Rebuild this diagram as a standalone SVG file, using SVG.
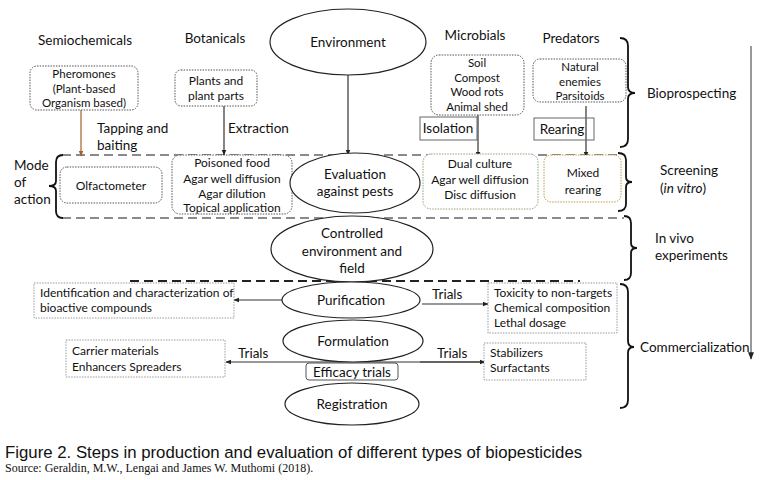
<svg xmlns="http://www.w3.org/2000/svg" width="762" height="480" viewBox="0 0 762 480">
<defs>
<style>
text{font-family:Lato,"Open Sans","Liberation Sans",sans-serif;font-size:12px;fill:#111}
.c{text-anchor:middle}
.h{font-size:13.5px}
.s{font-size:11.5px}
.dot{fill:#fff;stroke:#555;stroke-width:1;stroke-dasharray:1.5 1.2}
.sq{fill:#fff;stroke:#999;stroke-width:1;stroke-dasharray:1.5 1.2}
.ell{fill:#fff;stroke:#222;stroke-width:1.2}
.ln{fill:none;stroke:#333;stroke-width:1.2}
.br{fill:none;stroke:#111;stroke-width:1.8}
.dash{fill:none;stroke:#8a8a8a;stroke-width:2;stroke-dasharray:9 5}
</style>
<marker id="ah" viewBox="0 0 10 10" refX="9" refY="5" markerWidth="5" markerHeight="5" orient="auto"><path d="M0,1 L10,5 L0,9 z" fill="#222"/></marker>
<marker id="ahb" viewBox="0 0 10 10" refX="9" refY="5" markerWidth="5" markerHeight="5" orient="auto"><path d="M0,1 L10,5 L0,9 z" fill="#a0612b"/></marker>
</defs>
<rect width="762" height="480" fill="#fff"/>

<g id="headers">
<text class="c h" x="85" y="45">Semiochemicals</text>
<text class="c h" x="215" y="43">Botanicals</text>
<text class="c h" x="475" y="40">Microbials</text>
<text class="c h" x="571" y="43">Predators</text>
</g>

<g id="screening-band">
<line class="dash" x1="62" y1="155" x2="622" y2="155"/>
<line class="dash" x1="62" y1="218" x2="624" y2="218"/>
</g>

<g id="connectors">
<line x1="81" y1="110" x2="81" y2="156" stroke="#a0612b" stroke-width="1.2" marker-end="url(#ahb)"/>
<line class="ln" x1="224" y1="106" x2="224" y2="155" marker-end="url(#ah)"/>
<line class="ln" x1="348" y1="75" x2="348" y2="155" marker-end="url(#ah)"/>
<line class="ln" x1="478" y1="115" x2="478" y2="157" marker-end="url(#ah)"/>
<line class="ln" x1="586" y1="106" x2="586" y2="157" marker-end="url(#ah)"/>
<line class="ln" x1="282" y1="300" x2="234" y2="300" marker-end="url(#ah)"/>
<line class="ln" x1="422" y1="304" x2="488" y2="304" marker-end="url(#ah)"/>
<line class="ln" x1="486" y1="362" x2="226" y2="362" marker-end="url(#ah)"/>
<line class="ln" x1="420" y1="362" x2="485" y2="362" marker-end="url(#ah)"/>
<line x1="751" y1="46" x2="751" y2="359" stroke="#777" stroke-width="1.5" marker-end="url(#ah)"/>
<line x1="130" y1="281" x2="580" y2="281" stroke="#222" stroke-width="1.8" stroke-dasharray="9 5"/>
<text class="h" x="97" y="133">Tapping and</text>
<text class="h" x="97" y="150">baiting</text>
<text class="h" x="228" y="133">Extraction</text>
<text class="h" x="432" y="299">Trials</text>
<text class="h" x="238" y="358">Trials</text>
<text class="h" x="437" y="358">Trials</text>
</g>

<g id="environment"><ellipse class="ell" cx="348" cy="42" rx="78" ry="33"/><text class="c h" x="348" y="47">Environment</text></g>

<g id="pheromones"><rect class="dot" x="30" y="66" width="108" height="44" rx="7"/>
<text class="c s" x="84" y="78">Pheromones</text><text class="c s" x="84" y="92.5">(Plant-based</text><text class="c s" x="84" y="107">Organism based)</text></g>

<g id="plants"><rect class="dot" x="175" y="70" width="82" height="36" rx="6"/>
<text class="c" x="216" y="85">Plants and</text><text class="c" x="216" y="100">plant parts</text></g>

<g id="microbial-sources"><rect class="dot" x="431" y="55" width="93" height="60" rx="8"/>
<text class="c s" x="477" y="67">Soil</text><text class="c s" x="477" y="81.5">Compost</text><text class="c s" x="477" y="96">Wood rots</text><text class="c s" x="477" y="110.5">Animal shed</text></g>

<g id="isolation"><rect x="420" y="117" width="57" height="23" fill="none" stroke="#666" stroke-width="1"/><text class="c h" x="448" y="133">Isolation</text></g>

<g id="natural-enemies"><rect class="dot" x="533" y="59" width="93" height="43" rx="7"/>
<text class="c s" x="580" y="71">Natural</text><text class="c s" x="580" y="85.5">enemies</text><text class="c s" x="580" y="100">Parsitoids</text></g>

<g id="rearing"><rect x="534" y="118" width="60" height="22" fill="none" stroke="#666" stroke-width="1"/><text class="c h" x="562" y="134">Rearing</text></g>

<g id="bioprospecting"><path class="br" d="M620,38 Q628,38 628,46 L628,87 Q628,93 635,93 Q628,93 628,99 L628,139 Q628,147 620,147"/><text class="h" x="647" y="98">Bioprospecting</text></g>

<g id="mode-of-action"><path class="br" d="M63,155 Q56,155 56,162 L56,181 Q56,186 49,186 Q56,186 56,191 L56,211 Q56,218 63,218"/>
<text class="h" x="14" y="170">Mode</text><text class="h" x="14" y="187">of</text><text class="h" x="14" y="204">action</text></g>

<g id="olfactometer"><rect class="dot" x="60" y="167" width="102" height="36" rx="7"/><text class="c" x="111" y="190">Olfactometer</text></g>

<g id="botanical-tests"><rect class="dot" x="172" y="155" width="120" height="59" rx="8"/>
<text class="c" x="232" y="167">Poisoned food</text><text class="c" x="232" y="183">Agar well diffusion</text><text class="c" x="232" y="198">Agar dilution</text><text class="c" x="232" y="212">Topical application</text></g>

<g id="evaluation"><ellipse class="ell" cx="355" cy="183" rx="65" ry="30"/><text class="c h" x="355" y="179">Evaluation</text><text class="c h" x="355" y="196">against pests</text></g>

<g id="microbial-tests"><rect x="423" y="154" width="115" height="55" rx="8" fill="#fff" stroke="#8aa37a" stroke-width="1" stroke-dasharray="1.5 1.2"/>
<text class="c" x="480" y="168">Dual culture</text><text class="c" x="480" y="184">Agar well diffusion</text><text class="c" x="480" y="199">Disc diffusion</text></g>

<g id="mixed-rearing"><rect x="544" y="155" width="77" height="47" rx="7" fill="#fff" stroke="#c09a40" stroke-width="1" stroke-dasharray="1.5 1.2"/>
<text class="c" x="583" y="177">Mixed</text><text class="c" x="583" y="194">rearing</text></g>

<g id="screening"><path class="br" d="M618,153 Q626,153 626,160 L626,177 Q626,182 632,182 Q626,182 626,187 L626,204 Q626,211 618,211"/>
<text class="h" x="660" y="175">Screening</text><text class="h" x="660" y="193">(<tspan font-style="italic">in vitro</tspan>)</text></g>

<g id="controlled"><ellipse class="ell" cx="352" cy="249" rx="81" ry="33"/>
<text class="c h" x="352" y="238">Controlled</text><text class="c h" x="352" y="256">environment and</text><text class="c h" x="352" y="273">field</text></g>

<g id="in-vivo"><path class="br" d="M624,216 Q631,216 631,223 L631,243 Q631,248 637,248 Q631,248 631,253 L631,273 Q631,280 624,280"/>
<text class="h" x="655" y="243">In vivo</text><text class="h" x="655" y="260">experiments</text></g>

<g id="identification"><rect class="sq" x="34" y="283" width="200" height="35"/>
<text x="40" y="297">Identification and characterization of</text><text x="40" y="312">bioactive compounds</text></g>

<g id="purification"><ellipse class="ell" cx="351" cy="300" rx="69" ry="18"/><text class="c h" x="351" y="305">Purification</text></g>

<g id="toxicity"><rect class="sq" x="488" y="283" width="129" height="50"/>
<text x="494" y="297">Toxicity to non-targets</text><text x="494" y="312">Chemical composition</text><text x="494" y="327">Lethal dosage</text></g>

<g id="formulation"><ellipse class="ell" cx="353" cy="341" rx="70" ry="21"/><text class="c h" x="353" y="346">Formulation</text></g>

<g id="carrier"><rect class="sq" x="66" y="340" width="159" height="37"/>
<text x="72" y="355">Carrier materials</text><text x="72" y="371">Enhancers Spreaders</text></g>

<g id="stabilizers"><rect class="sq" x="484" y="343" width="102" height="37"/>
<text x="490" y="357">Stabilizers</text><text x="490" y="372">Surfactants</text></g>

<g id="efficacy"><rect x="306" y="363" width="92" height="17" rx="3" fill="#fff" stroke="#555" stroke-width="1"/><text class="c h" x="352" y="377">Efficacy trials</text></g>

<g id="registration"><ellipse class="ell" cx="352" cy="404" rx="67" ry="21"/><text class="c h" x="352" y="409">Registration</text></g>

<g id="commercialization"><path class="br" d="M620,284 Q628,284 628,292 L628,341 Q628,347 634,347 Q628,347 628,353 L628,400 Q628,408 620,408"/>
<text class="h" x="640" y="352">Commercialization</text></g>

<g id="caption">
<text x="5" y="458" style="font-family:'Liberation Sans',Arial,sans-serif;font-size:16.8px">Figure 2. Steps in production and evaluation of different types of biopesticides</text>
<text x="5" y="472" style="font-family:'Liberation Serif','Times New Roman',serif;font-size:12px">Source: Geraldin, M.W., Lengai and James W. Muthomi (2018).</text>
</g>
</svg>
